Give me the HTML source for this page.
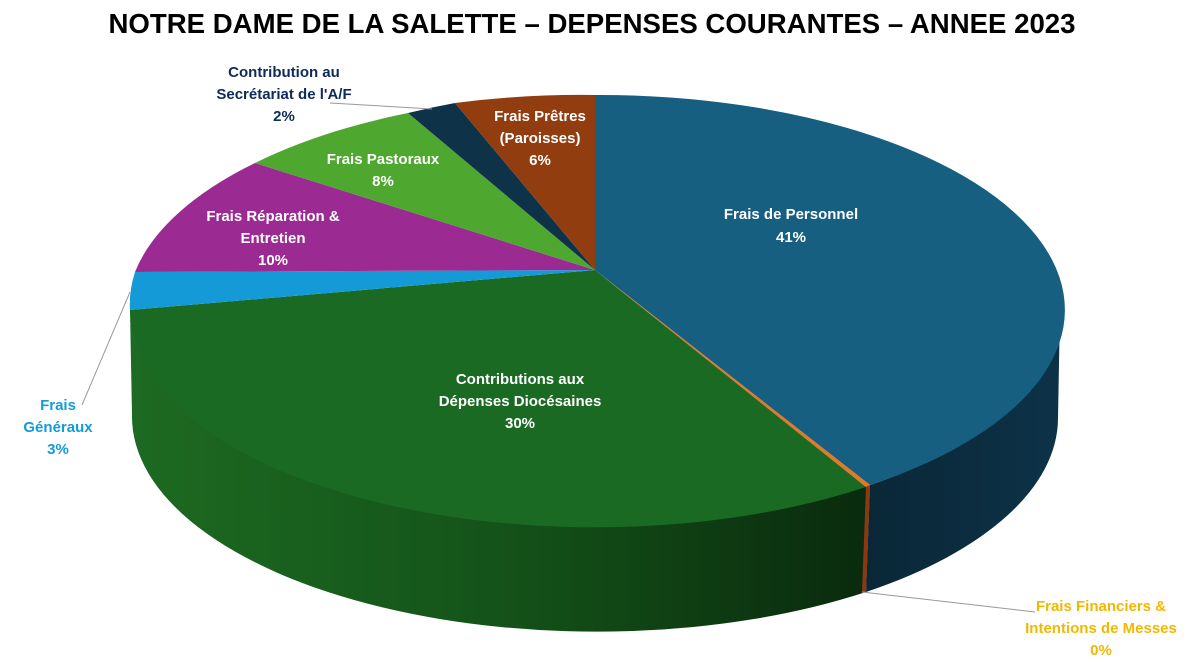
<!DOCTYPE html>
<html><head><meta charset="utf-8"><style>
html,body{margin:0;padding:0;background:#fff;}
svg{display:block;font-family:"Liberation Sans",sans-serif;font-weight:bold;}
</style></head><body>
<svg width="1196" height="667" viewBox="0 0 1196 667" xmlns="http://www.w3.org/2000/svg">
<defs>
<linearGradient id="gs" x1="0" y1="0" x2="1" y2="0">
<stop offset="0" stop-color="#1d6a22"/><stop offset="0.5" stop-color="#145319"/><stop offset="1" stop-color="#0a2a0d"/>
</linearGradient>
<linearGradient id="bs" x1="0" y1="0" x2="1" y2="0">
<stop offset="0" stop-color="#0a2737"/><stop offset="1" stop-color="#0d3247"/>
</linearGradient>
</defs>
<text x="592" y="33" text-anchor="middle" font-size="27.6" fill="#000">NOTRE DAME DE LA SALETTE – DEPENSES COURANTES – ANNEE 2023</text>
<path d="M130,310 A465 215 0 0 0 870,485 L866,592 A465 215 0 0 1 132,415 Z" fill="url(#gs)"/>
<path d="M870,485 A465 215 0 0 0 1060,310 L1058,418 A465 215 0 0 1 866,592 Z" fill="url(#bs)"/>
<path d="M866,487 L870,485 L866,592 L862,592 Z" fill="#8a3a12"/>
<path d="M595,270 L595,95 A465 215 0 0 1 870,485 Z" fill="#175f80"/>
<path d="M595,270 L870,485 L866,487 Z" fill="#e87722"/>
<path d="M595,270 L866,487 A465 215 0 0 1 130,310 Z" fill="#1b6a23"/>
<path d="M595,270 L130,310 A465 215 0 0 1 135,272 Z" fill="#149bd7"/>
<path d="M595,270 L135,272 A465 215 0 0 1 255,163 Z" fill="#9b2a93"/>
<path d="M595,270 L255,163 A465 215 0 0 1 408,113 Z" fill="#4ea72e"/>
<path d="M595,270 L408,113 A465 215 0 0 1 455,103 Z" fill="#0e3349"/>
<path d="M595,270 L455,103 A465 215 0 0 1 595,95 Z" fill="#923d10"/>
<line x1="130" y1="292" x2="82" y2="405" stroke="#999" stroke-width="1"/>
<line x1="862" y1="592" x2="1035" y2="612" stroke="#999" stroke-width="1"/>
<line x1="330" y1="103" x2="432" y2="109" stroke="#999" stroke-width="1"/>
<g font-size="15" fill="#fff" text-anchor="middle">
<text x="791" y="219">Frais de Personnel</text>
<text x="791" y="242">41%</text>
<text x="520" y="384">Contributions aux</text>
<text x="520" y="406">Dépenses Diocésaines</text>
<text x="520" y="428">30%</text>
<text x="273" y="221">Frais Réparation &amp;</text>
<text x="273" y="243">Entretien</text>
<text x="273" y="265">10%</text>
<text x="383" y="164">Frais Pastoraux</text>
<text x="383" y="186">8%</text>
<text x="540" y="121">Frais Prêtres</text>
<text x="540" y="143">(Paroisses)</text>
<text x="540" y="165">6%</text>
</g>
<g font-size="15" fill="#0e2a5a" text-anchor="middle">
<text x="284" y="77">Contribution au</text>
<text x="284" y="99">Secrétariat de l'A/F</text>
<text x="284" y="121">2%</text>
</g>
<g font-size="15" fill="#149bd7" text-anchor="middle">
<text x="58" y="410">Frais</text>
<text x="58" y="432">Généraux</text>
<text x="58" y="454">3%</text>
</g>
<g font-size="15" fill="#f2b800" text-anchor="middle">
<text x="1101" y="611">Frais Financiers &amp;</text>
<text x="1101" y="633">Intentions de Messes</text>
<text x="1101" y="655">0%</text>
</g>
</svg>
</body></html>
